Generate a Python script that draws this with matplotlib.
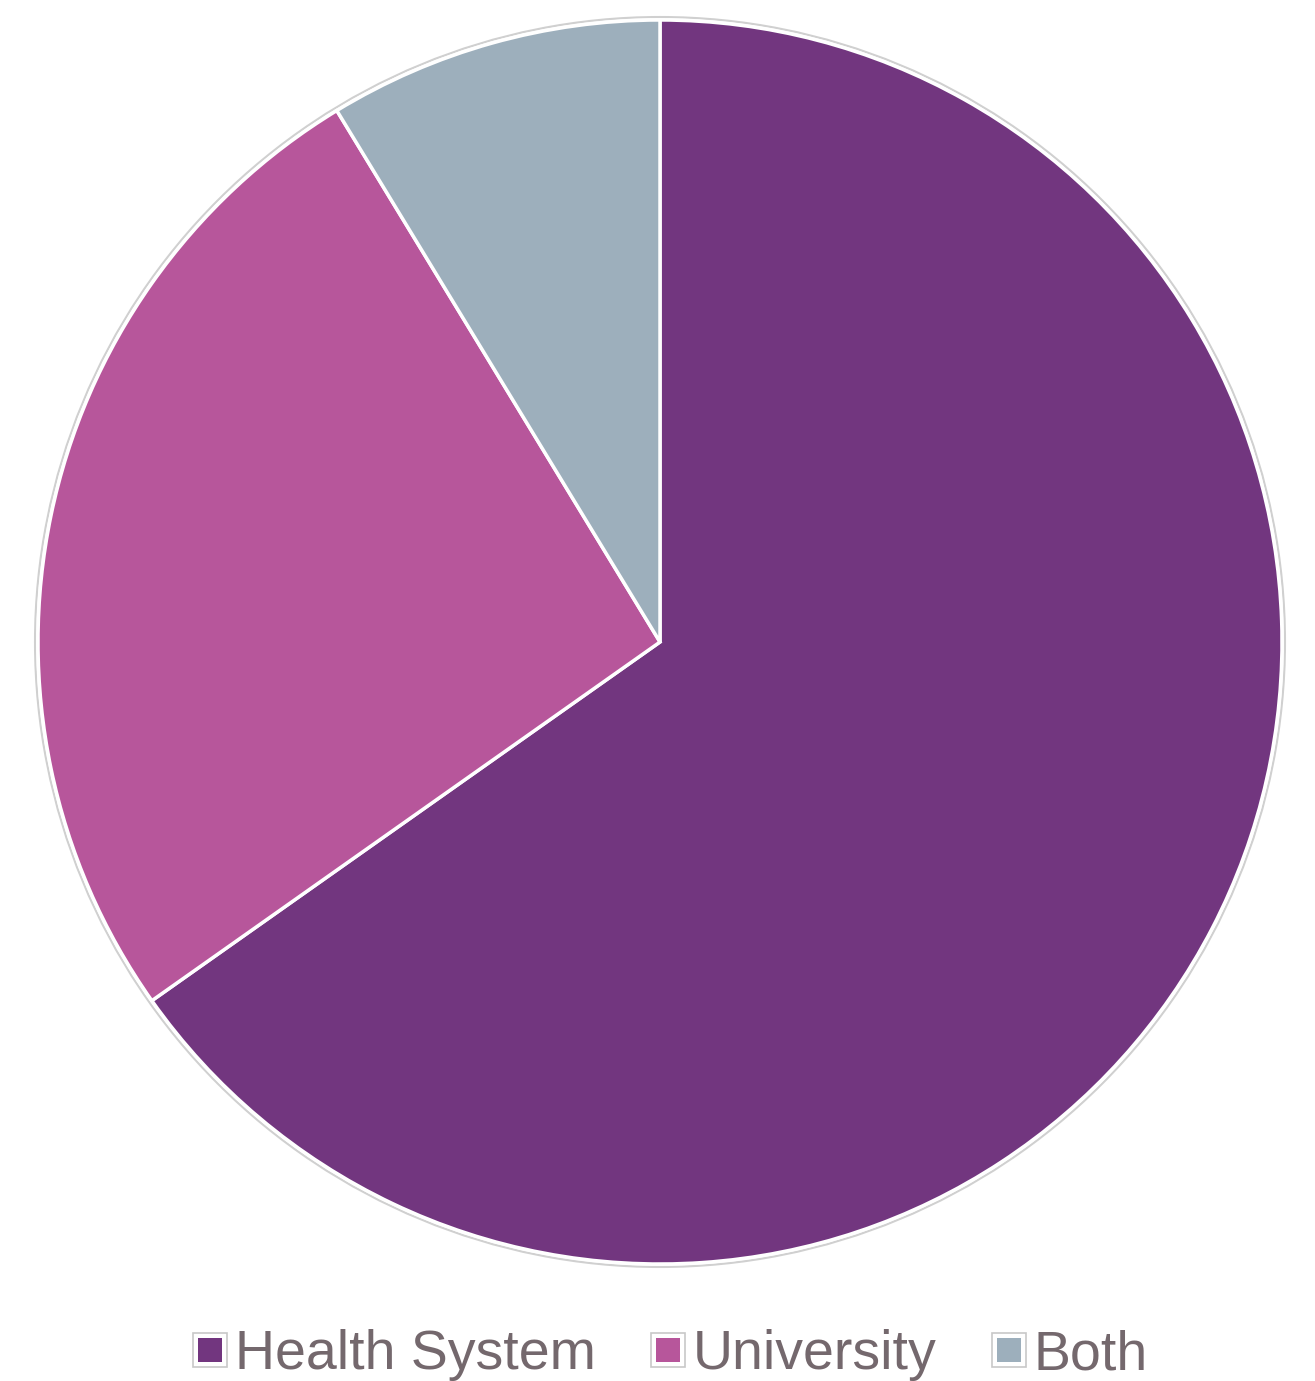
import matplotlib
matplotlib.use("Agg")
import matplotlib.pyplot as plt
from matplotlib.lines import Line2D
from matplotlib.patches import Circle
from matplotlib.legend_handler import HandlerTuple

categories = ["Health System", "University", "Both"]
values = [15, 6, 2]
colors = ["#72367F", "#B7569B", "#9DAFBC"]

W, H = 1315, 1381
fig = plt.figure(figsize=(W / 100, H / 100), dpi=100)
ax = fig.add_axes([0, 0, 1, 1])
ax.set_xlim(0, W)
ax.set_ylim(0, H)
ax.set_aspect("equal")
ax.axis("off")

cx, cy, r = 660, H - 642, 622
ax.add_patch(Circle((cx, cy), r + 3, facecolor="none", edgecolor="#d0d0d0", lw=1.5, zorder=0))
ax.pie(values, colors=colors, startangle=90, counterclock=False,
       center=(cx, cy), radius=r, frame=True,
       wedgeprops=dict(edgecolor="white", linewidth=2.5))
ax.set_xlim(0, W)
ax.set_ylim(0, H)
ax.axis("off")

handles = []
for c in colors:
    outer = Line2D([], [], marker="s", linestyle="none", markersize=24,
                   markerfacecolor="white", markeredgecolor="#c8c8c8", markeredgewidth=1.2)
    inner = Line2D([], [], marker="s", linestyle="none", markersize=17,
                   markerfacecolor=c, markeredgecolor=c, markeredgewidth=0)
    handles.append((outer, inner))

leg = fig.legend(handles, categories, loc="center", bbox_to_anchor=(0.51, 1 - 1355 / H),
                 ncol=3, frameon=False, handler_map={tuple: HandlerTuple(ndivide=1, pad=0)},
                 prop={"family": "Liberation Sans", "size": 40},
                 handlelength=0.6, handletextpad=0.15, columnspacing=1.0)
for t in leg.get_texts():
    t.set_color("#74686D")

fig.savefig("out.png", dpi=100)
